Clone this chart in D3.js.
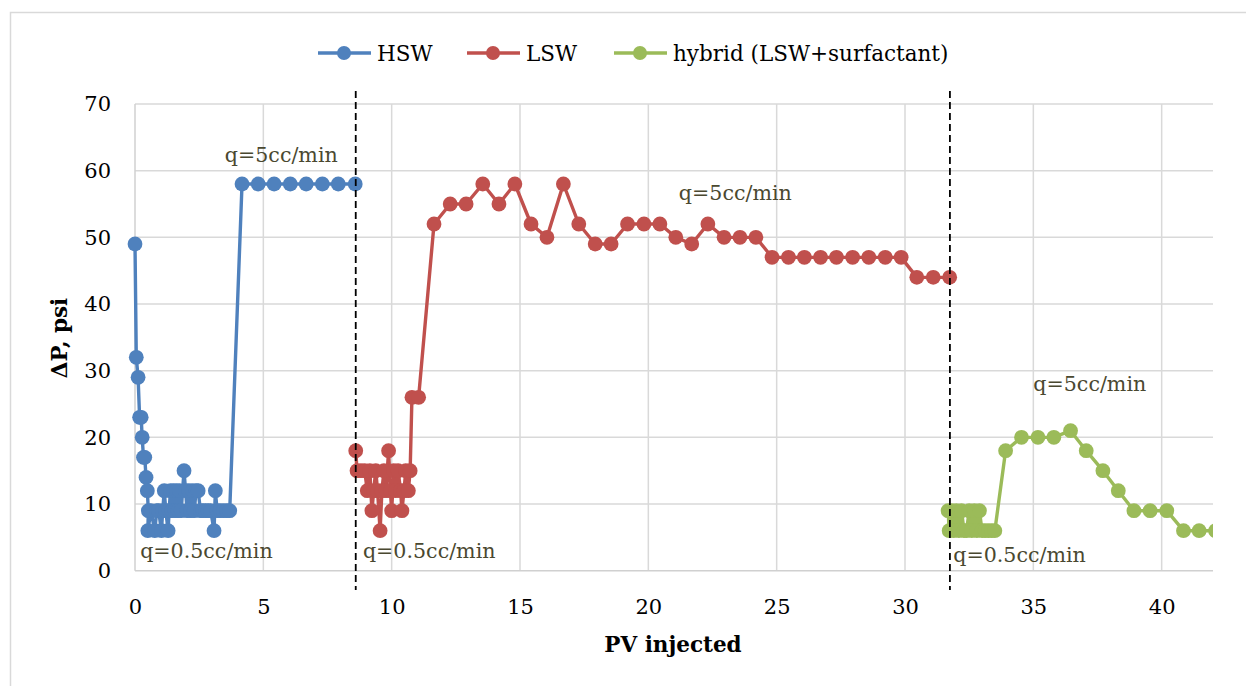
<!DOCTYPE html>
<html>
<head>
<meta charset="utf-8">
<script src="https://cdn.jsdelivr.net/npm/d3@7"></script>
<style>
  html, body { margin: 0; padding: 0; background: #ffffff; }
  svg { display: block; }
</style>
</head>
<body>
<svg id="chart" width="1246" height="686"></svg>
<script>
// Pressure drop vs. pore volumes injected for three flooding stages
const hswPV = [0, 0.05, 0.12, 0.18, 0.24, 0.28, 0.33, 0.38, 0.43, 0.48, 0.52, 0.5, 0.62, 0.77, 0.85, 0.92, 1.03, 1.08, 1.14, 1.2, 1.29, 1.33, 1.38, 1.44, 1.5, 1.56, 1.62, 1.68, 1.74, 1.8, 1.91, 1.97, 2.03, 2.1, 2.17, 2.24, 2.31, 2.38, 2.46, 2.55, 2.65, 2.75, 2.85, 2.95, 3.08, 3.13, 3.2, 3.32, 3.45, 3.58, 3.69, 4.17, 4.8, 5.42, 6.05, 6.67, 7.3, 7.92, 8.58];
const hswDP = [49, 32, 29, 23, 23, 20, 17, 17, 14, 12, 9, 6, 9, 6, 9, 9, 6, 9, 12, 9, 6, 9, 12, 9, 12, 9, 12, 9, 12, 9, 15, 12, 9, 12, 9, 12, 9, 12, 12, 9, 9, 9, 9, 9, 6, 12, 9, 9, 9, 9, 9, 58, 58, 58, 58, 58, 58, 58, 58];

const lswPV = [8.6, 8.65, 8.8, 8.95, 9.05, 9.15, 9.23, 9.3, 9.38, 9.45, 9.55, 9.62, 9.7, 9.78, 9.88, 9.95, 10.0, 10.08, 10.15, 10.25, 10.35, 10.4, 10.48, 10.55, 10.65, 10.72, 10.79, 11.05, 11.65, 12.28, 12.9, 13.55, 14.18, 14.8, 15.43, 16.05, 16.69, 17.29, 17.93, 18.55, 19.19, 19.83, 20.45, 21.07, 21.69, 22.32, 22.95, 23.57, 24.19, 24.82, 25.46, 26.08, 26.71, 27.33, 27.96, 28.59, 29.23, 29.85, 30.46, 31.1, 31.74];
const lswDP = [18, 15, 15, 15, 12, 15, 9, 12, 15, 12, 6, 12, 15, 12, 18, 12, 9, 15, 12, 15, 12, 9, 12, 15, 12, 15, 26, 26, 52, 55, 55, 58, 55, 58, 52, 50, 58, 52, 49, 49, 52, 52, 52, 50, 49, 52, 50, 50, 50, 47, 47, 47, 47, 47, 47, 47, 47, 47, 44, 44, 44];

const hybPV = [31.68, 31.72, 31.82, 31.9, 32.0, 32.1, 32.2, 32.3, 32.4, 32.5, 32.6, 32.7, 32.8, 32.9, 33.0, 33.12, 33.25, 33.38, 33.5, 33.92, 34.54, 35.18, 35.8, 36.45, 37.06, 37.71, 38.31, 38.92, 39.55, 40.2, 40.85, 41.46, 42.1];
const hybDP = [9, 6, 9, 6, 9, 6, 9, 6, 6, 9, 6, 9, 6, 9, 6, 6, 6, 6, 6, 18, 20, 20, 20, 21, 18, 15, 12, 9, 9, 9, 6, 6, 6];

const seriesNames = ["HSW", "LSW", "hybrid (LSW+surfactant)"];
const seriesColors = ["#4f81bd", "#c0504d", "#9bbb59"];

const xTicks = [0, 5, 10, 15, 20, 25, 30, 35, 40];
const yTicks = [0, 10, 20, 30, 40, 50, 60, 70];

// Flow-rate changes (vertical markers) and rate labels
const rateChangePV = [8.6, 31.75];
const rateLabels = ["q=5cc/min", "q=0.5cc/min", "q=0.5cc/min", "q=5cc/min", "q=5cc/min", "q=0.5cc/min"];
const rateLabelPV = [5.7, 0.2, 8.88, 23.39, 37.2, 31.88];
const rateLabelDP = [61.3, 1.9, 1.9, 55.6, 27, 1.3];
const rateLabelAnchor = ["middle", "start", "start", "middle", "middle", "start"];

const svg = d3.select("#chart");
const W = 1246, H = 686;
const plot = { left: 135, right: 1213, top: 104, bottom: 570.7 };

const x = d3.scaleLinear().domain([0, 42]).range([plot.left, plot.right]);
const y = d3.scaleLinear().domain([0, 70]).range([plot.bottom, plot.top]);

const serif = "'DejaVu Serif', 'Liberation Serif', serif";

// chart frame
svg.append("rect")
  .attr("x", 10.5).attr("y", 12.5)
  .attr("width", W).attr("height", H)
  .attr("fill", "#ffffff")
  .attr("stroke", "#d9d9d9").attr("stroke-width", 1.5);

// gridlines
const grid = svg.append("g");
grid.selectAll("line.h").data(yTicks.slice(1)).join("line")
  .attr("x1", plot.left).attr("x2", plot.right)
  .attr("y1", d => y(d)).attr("y2", d => y(d))
  .attr("stroke", "#d9d9d9").attr("stroke-width", 1.5);
grid.selectAll("line.v").data(xTicks.slice(1)).join("line")
  .attr("x1", d => x(d)).attr("x2", d => x(d))
  .attr("y1", plot.top).attr("y2", plot.bottom)
  .attr("stroke", "#d9d9d9").attr("stroke-width", 1.5);

// axis lines
svg.append("line")
  .attr("x1", plot.left).attr("x2", plot.right)
  .attr("y1", y(0)).attr("y2", y(0))
  .attr("stroke", "#d0d0d0").attr("stroke-width", 1.5);
svg.append("line")
  .attr("x1", x(0)).attr("x2", x(0))
  .attr("y1", plot.top).attr("y2", plot.bottom)
  .attr("stroke", "#d0d0d0").attr("stroke-width", 1.5);

// tick labels
const xAxis = d3.axisBottom(x).tickValues(xTicks).tickSize(0).tickPadding(28);
const yAxis = d3.axisLeft(y).tickValues(yTicks).tickSize(0).tickPadding(24);
const gx = svg.append("g").attr("transform", `translate(0,${plot.bottom})`).call(xAxis);
const gy = svg.append("g").attr("transform", `translate(${plot.left},0)`).call(yAxis);
[gx, gy].forEach(g => {
  g.select(".domain").remove();
  g.selectAll("text")
    .attr("font-family", serif).attr("font-size", 21)
    .attr("fill", "#000000");
});

// axis titles
svg.append("text")
  .attr("x", 673).attr("y", 652)
  .attr("text-anchor", "middle")
  .attr("font-family", serif).attr("font-size", 21.5).attr("font-weight", "bold")
  .text("PV injected");
svg.append("text")
  .attr("transform", "translate(67,338) rotate(-90)")
  .attr("text-anchor", "middle")
  .attr("font-family", serif).attr("font-size", 21.5).attr("font-weight", "bold")
  .text("ΔP, psi");

// data series
svg.append("clipPath").attr("id", "plotClip")
  .append("rect")
  .attr("x", 0).attr("y", 0)
  .attr("width", plot.right).attr("height", H);

const series = [
  { pv: hswPV, dp: hswDP },
  { pv: lswPV, dp: lswDP },
  { pv: hybPV, dp: hybDP }
];

const line = d3.line().x(d => x(d[0])).y(d => y(d[1]));
const dataLayer = svg.append("g").attr("clip-path", "url(#plotClip)");

series.forEach((s, i) => {
  const pts = s.pv.map((v, k) => [v, s.dp[k]]);
  const g = dataLayer.append("g");
  g.append("path")
    .attr("d", line(pts))
    .attr("fill", "none")
    .attr("stroke", seriesColors[i])
    .attr("stroke-width", 3.4)
    .attr("stroke-linejoin", "round");
  g.selectAll("circle").data(pts).join("circle")
    .attr("cx", d => x(d[0])).attr("cy", d => y(d[1]))
    .attr("r", 7.4)
    .attr("fill", seriesColors[i]);
});

// flow-rate change markers
svg.selectAll("line.rate").data(rateChangePV).join("line")
  .attr("x1", d => x(d)).attr("x2", d => x(d))
  .attr("y1", 91).attr("y2", 590)
  .attr("stroke", "#000000").attr("stroke-width", 1.8)
  .attr("stroke-dasharray", "7,4");

// flow-rate labels
svg.selectAll("text.rate").data(rateLabels).join("text")
  .attr("x", (d, i) => x(rateLabelPV[i]))
  .attr("y", (d, i) => y(rateLabelDP[i]))
  .attr("text-anchor", (d, i) => rateLabelAnchor[i])
  .attr("font-family", serif).attr("font-size", 20.6)
  .attr("fill", "#4a4830")
  .text(d => d);

// legend
const legendX = [318, 467, 614];
const legend = svg.append("g");
seriesNames.forEach((name, i) => {
  const lx = legendX[i];
  legend.append("line")
    .attr("x1", lx).attr("x2", lx + 53)
    .attr("y1", 53).attr("y2", 53)
    .attr("stroke", seriesColors[i]).attr("stroke-width", 3.4);
  legend.append("circle")
    .attr("cx", lx + 26).attr("cy", 53).attr("r", 7)
    .attr("fill", seriesColors[i]);
  legend.append("text")
    .attr("x", lx + 59).attr("y", 60.5)
    .attr("font-family", serif).attr("font-size", 21.5)
    .attr("fill", "#000000")
    .text(name);
});
</script>
</body>
</html>
